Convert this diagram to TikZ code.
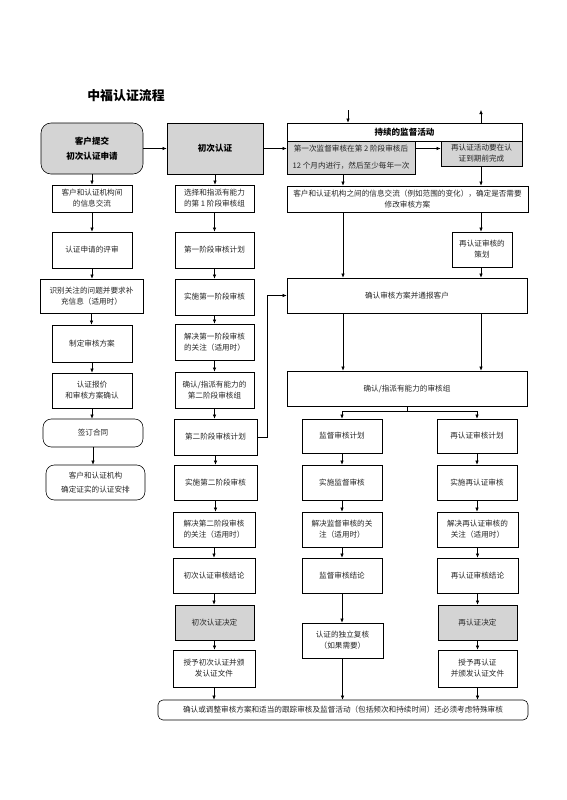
\documentclass[tikz,border=0pt]{standalone}
\usepackage{fontspec}
\setmainfont{Noto Sans CJK SC}
\usetikzlibrary{arrows.meta}
\definecolor{boxgray}{RGB}{212,212,212}
\begin{document}
\begin{tikzpicture}[x=0.3mm,y=-0.3mm,
  box/.style={draw,line width=0.5pt,align=center,inner sep=1pt,text=black!85,
    font=\fontsize{6.5}{9.5}\selectfont},
  shade/.style={box,fill=boxgray},
  rbox/.style={box,rounded corners=#1},
  bf/.style={font=\fontsize{7.3}{12.5}\selectfont\bfseries,text=black},
  wh/.style 2 args={minimum width=#1*0.3mm,minimum height=#2*0.3mm},
  arr/.style={-{Latex[length=3.5pt,width=3pt]},line width=0.5pt},
  ]
\useasboundingbox (0,0) rectangle (566,800);
\node[font=\fontsize{11}{13}\selectfont\bfseries] (title) at (126,96) {中福认证流程};
% left column
\node[rbox=3mm,fill=boxgray,bf,wh={102}{51}] (sub) at (92,148.5) {客户提交\\初次认证申请};
\node[box,wh={80}{27}] (lex) at (92,198.5) {客户和认证机构间\\的信息交流};
\node[box,wh={80}{36}] (lrev) at (92,250) {认证申请的评审};
\node[box,wh={103}{34}] (lid) at (91.5,296) {识别关注的问题并要求补\\充信息（适用时）};
\node[box,wh={80}{37}] (lplan) at (92,343.5) {制定审核方案};
\node[box,wh={80}{35}] (lquote) at (92,390.5) {认证报价\\和审核方案确认};
\node[rbox=2.5mm,wh={100}{28}] (lcon) at (93,433) {签订合同};
\node[rbox=2.5mm,wh={99}{35}] (larr) at (95.5,482.5) {客户和认证机构\\[3pt]确定证实的认证安排};
% initial certification
\node[shade,bf,wh={96}{51}] (init) at (215,148.5) {初次认证};
\node[box,wh={79}{27}] (c2a) at (214.5,198.5) {选择和指派有能力\\的第 1 阶段审核组};
\node[box,wh={79}{36}] (c2b) at (214.5,250) {第一阶段审核计划};
\node[box,wh={79}{36}] (c2c) at (214.5,297) {实施第一阶段审核};
\node[box,wh={79}{36}] (c2d) at (214.5,342) {解决第一阶段审核\\的关注（适用时）};
\node[box,wh={79}{36}] (c2e) at (214.5,390) {确认/指派有能力的\\第二阶段审核组};
\node[box,wh={83}{36}] (c2f) at (215.5,437) {第二阶段审核计划};
\node[box,wh={83}{35}] (c2g) at (215.5,482.5) {实施第二阶段审核};
\node[box,wh={82}{35}] (c2h) at (214,529.5) {解决第二阶段审核\\的关注（适用时）};
\node[box,wh={82}{35}] (c2i) at (214,575.5) {初次认证审核结论};
\node[shade,wh={79}{35}] (c2j) at (214.5,622.5) {初次认证决定};
\node[box,wh={82}{37}] (c2k) at (214,668.5) {授予初次认证并颁\\发认证文件};
% surveillance and recertification
\node[box,bf,wh={235}{18}] (hdr) at (404.5,132) {持续的监督活动};
\node[shade,wh={128}{33}] (surv) at (351,157.5) {第一次监督审核在第 2 阶段审核后\\[5pt]12 个月内进行，然后至少每年一次};
\node[shade,wh={81}{25}] (recert) at (481.5,153.5) {再认证活动要在认\\证到期前完成};
\node[box,wh={241}{26}] (info) at (407.5,199) {客户和认证机构之间的信息交流（例如范围的变化），确定是否需要\\修改审核方案};
\node[box,wh={60}{35}] (rplan) at (482,249.5) {再认证审核的\\策划};
\node[box,wh={240}{35}] (conf) at (407,295.5) {确认审核方案并通报客户};
\node[box,wh={240}{35}] (team) at (407,388.5) {确认/指派有能力的审核组};
\node[box,wh={80}{34}] (c3a) at (342,436) {监督审核计划};
\node[box,wh={80}{35}] (c3b) at (342,482.5) {实施监督审核};
\node[box,wh={80}{35}] (c3c) at (342,529.5) {解决监督审核的关\\注（适用时）};
\node[box,wh={80}{35}] (c3d) at (342,575.5) {监督审核结论};
\node[box,wh={81}{35}] (c3e) at (342.5,640.5) {认证的独立复核\\（如果需要）};
\node[box,wh={80}{34}] (c4a) at (477,436) {再认证审核计划};
\node[box,wh={80}{35}] (c4b) at (477,482.5) {实施再认证审核};
\node[box,wh={81}{35}] (c4c) at (477.5,529.5) {解决再认证审核的\\关注（适用时）};
\node[box,wh={81}{35}] (c4d) at (477.5,575.5) {再认证审核结论};
\node[shade,wh={79}{35}] (c4e) at (477.5,622.5) {再认证决定};
\node[box,wh={79}{37}] (c4f) at (477.5,668.5) {授予再认证\\并颁发认证文件};
\node[rbox=1.5mm,wh={370}{20}] (bot) at (343,710) {确认或调整审核方案和适当的跟踪审核及监督活动（包括频次和持续时间）还必须考虑特殊审核};
% connectors
\coordinate (xa) at (343,0);
\coordinate (xb) at (481,0);
\coordinate (tin) at (348,110);
\coordinate (tout) at (481,110);
\foreach \a/\b in {sub/lex,lex/lrev,lrev/lid,lid/lplan,lplan/lquote,lquote/lcon,lcon/larr,
  init/c2a,c2a/c2b,c2b/c2c,c2c/c2d,c2d/c2e,c2e/c2f,c2f/c2g,c2g/c2h,c2h/c2i,c2i/c2j,c2j/c2k,c2k/bot,
  c3a/c3b,c3b/c3c,c3c/c3d,c3d/c3e,c3e/bot,
  c4a/c4b,c4b/c4c,c4c/c4d,c4d/c4e,c4e/c4f,c4f/bot}
  \draw[arr] (\a.south) -- (\a.south |- \b.north);
\draw[arr] (sub) -- (init);
\draw[arr] (init.east) -- (init.east -| surv.west);
\draw[arr] (surv.east |- init.east) -- (recert.west |- init.east);
\draw[arr] (tin) -- (tin |- hdr.north);
\draw[arr] (tout |- hdr.north) -- (tout);
\draw[arr] (surv.south -| xa) -- (info.north -| xa);
\draw[arr] (recert.south -| xb) -- (info.north -| xb);
\draw[arr] (info.south -| xa) -- (conf.north -| xa);
\draw[arr] (info.south -| xb) -- (rplan.north -| xb);
\draw[arr] (rplan.south -| xb) -- (conf.north -| xb);
\draw[arr] (conf.south -| xa) -- (team.north -| xa);
\draw[arr] (conf.south -| xb) -- (team.north -| xb);
\draw[arr] (c2f.east) -- ++(10,0) |- (conf.west);
\draw[arr] (team.south) -- ++(0,5) -| (c3a.north);
\draw[arr] (team.south) -- ++(0,5) -| (c4a.north);
\end{tikzpicture}
\end{document}
